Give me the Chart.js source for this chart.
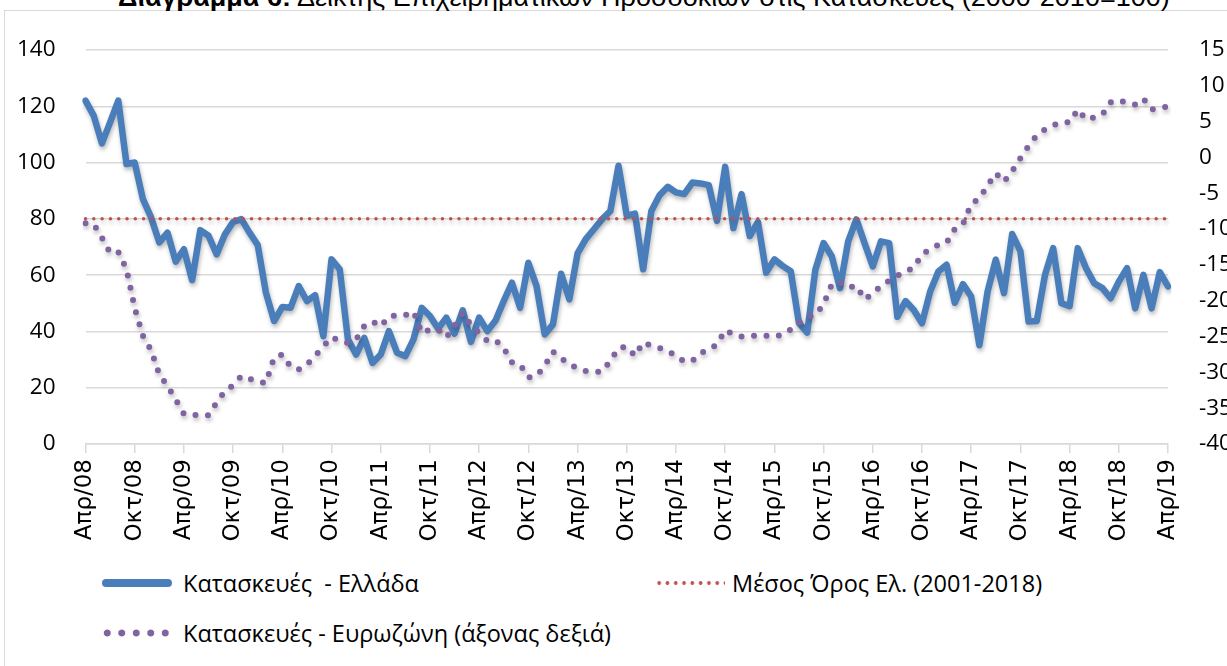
<!DOCTYPE html>
<html>
<head>
<meta charset="utf-8">
<script src="https://cdn.jsdelivr.net/npm/chart.js@4.4.1/dist/chart.umd.min.js"></script>
<style>
    html, body { margin: 0; padding: 0; background: #fff; overflow: hidden; width: 1227px; height: 666px; }
    #frame { position: absolute; left: 4px; top: 10px; width: 1300px; height: 700px; border: 1.5px solid #d9d9d9; box-sizing: border-box; }
    #title { position: absolute; left: 118px; top: -16px; white-space: nowrap; font-family: 'Liberation Sans Narrow', 'Liberation Sans', sans-serif; font-size: 26px; line-height: 26px; color: #000; transform-origin: 0 0; }
    #chart { position: absolute; left: 0; top: 0; }
    .lg { position: absolute; height: 26px; line-height: 26px; font-family: 'Open Sans', sans-serif; font-size: 23.5px; color: #000; white-space: pre; }
    .lg .sw { position: absolute; top: 9px; height: 8px; }
    .lg .txt { position: absolute; top: 0; }
    .blue { width: 70px; background: #4a7ebb; border-radius: 4px; }
    .red { width: 70px; top: 11px !important; height: 4px !important; background-image: radial-gradient(circle, #c0504d 1.6px, transparent 2.1px); background-size: 8.3px 4px; background-repeat: repeat-x; }
    .purple { width: 70px; background-image: radial-gradient(circle, #8064a2 3.2px, transparent 3.8px); background-size: 14.5px 8px; background-repeat: repeat-x; }
</style>
</head>
<body>
<div id="frame"></div>
<div id="title"><b>Διάγραμμα 6:</b> Δείκτης Επιχειρηματικών Προσδοκιών στις Κατασκευές (2000-2010=100)</div>
<canvas id="chart" width="1260" height="560"></canvas>

<div class="lg" style="left:100px; top:570px; width:440px;"><span class="sw blue" style="left:2px"></span><span class="txt" style="left:83px">Κατασκευές  - Ελλάδα</span></div>
<div class="lg" style="left:655px; top:570px; width:420px;"><span class="sw red" style="left:0"></span><span class="txt" style="left:77px">Μέσος Όρος Ελ. (2001-2018)</span></div>
<div class="lg" style="left:100px; top:620px; width:560px;"><span class="sw purple" style="left:0"></span><span class="txt" style="left:83px">Κατασκευές - Ευρωζώνη (άξονας δεξιά)</span></div>

<script>
// monthly, Apr 2008 .. Apr 2019
const monthNames = ['Ιαν', 'Φεβ', 'Μαρ', 'Απρ', 'Μαϊ', 'Ιουν', 'Ιουλ', 'Αυγ', 'Σεπ', 'Οκτ', 'Νοε', 'Δεκ'];
const categories = [];
for (let k = 0; k < 133; k++) {
    const m = (3 + k) % 12;
    const y = 8 + Math.floor((3 + k) / 12);
    categories.push(monthNames[m] + '/' + String(y).padStart(2, '0'));
}

// Κατασκευές - Ελλάδα (left axis)
const greece = [
    122.0, 116.7, 106.8, 114.3, 122.0, 99.5, 100.0, 87.0, 80.5, 71.6, 75.1, 64.8,
    69.2, 58.2, 76.0, 74.0, 67.4, 74.5, 78.9, 79.9, 75.1, 70.7, 53.8, 43.7,
    48.7, 48.4, 56.1, 50.8, 52.9, 38.3, 65.6, 62.1, 37.2, 31.8, 37.7, 28.8,
    31.8, 40.1, 32.4, 31.2, 37.2, 48.4, 45.5, 41.0, 44.9, 39.2, 47.5, 36.3,
    44.9, 40.1, 43.9, 50.8, 57.3, 48.4, 64.4, 56.1, 38.9, 42.5, 60.5, 51.4,
    67.7, 72.8, 76.3, 79.9, 82.8, 98.9, 81.1, 81.9, 62.1, 82.8, 88.4, 91.4,
    89.4, 88.8, 92.9, 92.6, 92.0, 79.3, 98.5, 76.7, 88.8, 73.9, 78.9, 60.9,
    65.6, 63.3, 61.4, 43.0, 39.6, 61.9, 71.4, 66.7, 55.4, 72.0, 79.8, 71.4,
    63.1, 72.0, 71.4, 45.2, 50.8, 47.6, 42.9, 54.2, 61.3, 63.7, 50.2, 56.8,
    52.4, 35.1, 54.2, 65.5, 53.6, 74.6, 68.5, 43.5, 43.7, 60.1, 69.6, 50.0,
    49.0, 69.6, 62.5, 57.1, 55.4, 51.8, 57.7, 62.5, 48.2, 60.1, 48.2, 61.1,
    56.0
];

// Κατασκευές - Ευρωζώνη (right axis)
const euroArea = [
    -9.2, -9.3, -11.2, -13.3, -13.2, -15.6, -21.0, -24.9, -26.9, -30.3, -31.9, -33.8,
    -35.8, -35.9, -36.0, -36.0, -34.2, -32.6, -31.8, -30.5, -30.9, -31.3, -31.5, -27.9,
    -27.5, -29.2, -29.6, -28.9, -27.7, -26.4, -25.1, -25.6, -25.9, -25.4, -23.5, -22.9,
    -23.6, -22.2, -22.0, -22.0, -21.5, -24.5, -24.0, -24.0, -25.1, -23.5, -21.7, -23.4,
    -24.5, -25.6, -25.5, -26.6, -28.6, -28.9, -30.7, -30.5, -29.1, -27.1, -28.0, -28.9,
    -29.4, -29.8, -29.9, -29.9, -28.4, -26.6, -26.4, -27.7, -25.8, -26.3, -26.6, -27.0,
    -27.7, -28.5, -28.4, -27.3, -26.8, -26.1, -24.1, -24.7, -25.0, -24.9, -24.9, -24.9,
    -25.0, -24.7, -24.0, -23.1, -22.3, -22.0, -20.5, -17.7, -17.4, -18.2, -17.9, -19.8,
    -19.0, -17.9, -17.2, -16.5, -15.9, -15.4, -13.5, -12.8, -12.2, -11.9, -10.0, -9.3,
    -6.5, -5.7, -3.9, -2.2, -3.4, -1.9, -0.1, 1.6, 3.1, 3.9, 4.5, 4.9,
    4.9, 6.7, 5.3, 5.6, 6.0, 7.7, 8.0, 7.6, 7.4, 8.2, 6.7, 6.9,
    7.1
];

// Μέσος Όρος Ελ. (2001-2018)
const avgGreece = 80;
const avgLine = categories.map(() => avgGreece);

const leftTicks = { min: 0, max: 140, step: 20 };
const rightTicks = { min: -40, max: 15, step: 5 };

// soft drop shadow like the original office chart
const shadowPlugin = {
    id: 'shadow',
    beforeDatasetDraw(chart) {
        const c = chart.ctx;
        c.save();
        c.shadowColor = 'rgba(0,0,0,0.28)';
        c.shadowBlur = 4;
        c.shadowOffsetX = 1;
        c.shadowOffsetY = 3;
    },
    afterDatasetDraw(chart) {
        chart.ctx.restore();
    }
};

const axisFont = { family: 'Open Sans', size: 22.5 };

// keep the plot box fixed: no extra room for half-labels
function noPad(s) {
    s.paddingTop = 0;
    s.paddingBottom = 0;
    s.paddingLeft = 0;
    s.paddingRight = 0;
}

new Chart(document.getElementById('chart'), {
    type: 'line',
    data: {
        labels: categories,
        datasets: [
            {
                label: 'Κατασκευές - Ευρωζώνη (άξονας δεξιά)',
                data: euroArea,
                yAxisID: 'y2',
                borderColor: '#8064a2',
                borderWidth: 6,
                borderDash: [0, 12.5],
                borderCapStyle: 'round',
                pointRadius: 0,
                tension: 0,
                order: 1
            },
            {
                label: 'Μέσος Όρος Ελ. (2001-2018)',
                data: avgLine,
                yAxisID: 'y',
                borderColor: '#c0504d',
                borderWidth: 3.5,
                borderDash: [0, 8.3],
                borderCapStyle: 'round',
                pointRadius: 0,
                order: 2
            },
            {
                label: 'Κατασκευές  - Ελλάδα',
                data: greece,
                yAxisID: 'y',
                borderColor: '#4a7ebb',
                borderWidth: 6.5,
                borderJoinStyle: 'round',
                borderCapStyle: 'round',
                pointRadius: 0,
                tension: 0,
                order: 3
            }
        ]
    },
    options: {
        responsive: false,
        animation: false,
        layout: { padding: { left: 0, right: 0, top: 50, bottom: 0 } },
        plugins: { legend: { display: false }, tooltip: { enabled: false } },
        scales: {
            x: {
                offset: false,
                afterFit(s) { s.height = 116; noPad(s); },
                grid: {
                    drawOnChartArea: false,
                    drawTicks: true,
                    tickLength: 9,
                    lineWidth: 1.5,
                    color: (c) => (c.index % 6 === 0 ? '#d9d9d9' : 'rgba(0,0,0,0)')
                },
                border: { display: true, color: '#d9d9d9', width: 1.5 },
                ticks: {
                    autoSkip: false,
                    minRotation: 90,
                    maxRotation: 90,
                    padding: 6,
                    color: '#000',
                    font: { family: 'DejaVu Sans', size: 23 },
                    callback: (v, i) => (i % 6 === 0 ? categories[i] : '')
                }
            },
            y: {
                position: 'left',
                min: leftTicks.min,
                max: leftTicks.max,
                afterFit(s) { s.width = 85.5; noPad(s); },
                ticks: { stepSize: leftTicks.step, padding: 30, color: '#000', font: axisFont },
                grid: { color: '#d9d9d9', lineWidth: 1.5, drawTicks: false },
                border: { display: false }
            },
            y2: {
                position: 'right',
                min: rightTicks.min,
                max: rightTicks.max,
                afterFit(s) { s.width = 1260 - 1168; noPad(s); },
                ticks: { stepSize: rightTicks.step, padding: 31, crossAlign: 'near', color: '#000', font: axisFont },
                grid: { display: false, drawTicks: false },
                border: { display: false }
            }
        }
    },
    plugins: [shadowPlugin]
});

// stretch the (clipped) title to the width it has in the original
const title = document.getElementById('title');
title.style.transform = 'scaleX(' + (1052 / title.offsetWidth) + ')';
</script>
</body>
</html>
